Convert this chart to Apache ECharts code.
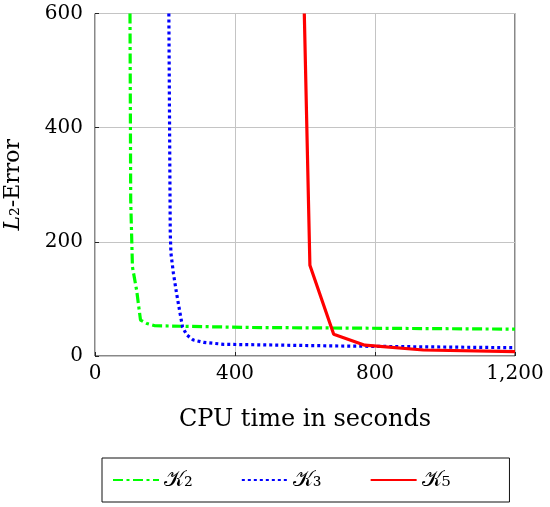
<!DOCTYPE html>
<html>
<head>
<meta charset="utf-8">
<script src="https://cdn.jsdelivr.net/npm/echarts@6/dist/echarts.min.js"></script>
<style>html,body{margin:0;padding:0;background:#fff}#c{width:550px;height:507px}</style>
</head>
<body>
<div id="c"></div>
<script>
// ---- data ----
const seriesNames = ['K2', 'K3', 'K5'];
const k2Time = [100, 102, 107, 119, 130, 148, 171, 440, 1200];
const k2Err  = [600, 273, 156, 115, 63, 57, 53, 50, 47];
const k3Time = [211, 215, 217, 224, 233, 243, 250, 262, 281, 310, 367, 700, 1200];
const k3Err  = [600, 215, 180, 145, 110, 75, 51, 37, 28, 24, 20.5, 17.5, 14.5];
const k5Time = [598, 614, 682, 771, 938, 1200];
const k5Err  = [600, 159, 38, 19, 10.5, 7.5];
const xTicks = [0, 400, 800, 1200];
const yTicks = [0, 200, 400, 600];

const pairs = (xs, ys) => xs.map((x, i) => [x, ys[i]]);
const serif = 'DejaVu Serif';
const fmtNum = v => String(v).replace(/\B(?=(\d{3})+(?!\d))/g, ',');
const legendLabel = {K2: '{k|𝒦}{s|₂}', K3: '{k|𝒦}{s|₃}', K5: '{k|𝒦}{s|₅}'};

const chart = echarts.init(document.getElementById('c'), null, {renderer: 'canvas'});
chart.setOption({
  animation: false,
  backgroundColor: '#fff',
  grid: {left: 95, right: 35, top: 13.5, bottom: 151, show: true, borderColor: '#111', borderWidth: 1,
    containLabel: false, outerBoundsMode: 'none'},
  xAxis: {
    type: 'value', min: 0, max: 1200, interval: 400,
    name: 'CPU time in seconds', nameLocation: 'middle', nameGap: 52,
    nameTextStyle: {fontFamily: serif, fontSize: 24, color: '#000'},
    axisLine: {show: false},
    axisTick: {show: true, inside: true, length: 4, lineStyle: {color: '#222'}},
    axisLabel: {fontFamily: serif, fontSize: 20, color: '#000', margin: 8,
      formatter: v => xTicks.includes(v) ? fmtNum(v) : ''},
    splitLine: {show: true, lineStyle: {color: '#c4c4c4', width: 1}}
  },
  yAxis: {
    type: 'value', min: 0, max: 600, interval: 200,
    name: '{i|L}₂-Error', nameLocation: 'middle', nameGap: 71,
    nameTextStyle: {fontFamily: serif, fontSize: 22, color: '#000',
      rich: {i: {fontFamily: serif, fontStyle: 'italic', fontSize: 22, color: '#000'}}},
    axisLine: {show: false},
    axisTick: {show: true, inside: true, length: 4, lineStyle: {color: '#222'}},
    axisLabel: {fontFamily: serif, fontSize: 20, color: '#000', margin: 12,
      formatter: v => yTicks.includes(v) ? String(v) : ''},
    splitLine: {show: true, lineStyle: {color: '#c4c4c4', width: 1}}
  },
  legend: {
    left: 102, top: 458, orient: 'horizontal',
    padding: [11, 59, 11, 10], itemGap: 48, itemWidth: 46, itemHeight: 14,
    borderColor: '#111', borderWidth: 1,
    data: seriesNames,
    itemStyle: {opacity: 0},
    formatter: n => legendLabel[n],
    textStyle: {fontFamily: serif, fontSize: 22, color: '#000',
      rich: {k: {fontFamily: serif, fontSize: 22, color: '#000'}, s: {fontFamily: serif, fontSize: 22, color: '#000'}}}
  },
  series: [
    {name: 'K2', type: 'line', data: pairs(k2Time, k2Err), symbol: 'none', clip: true,
      lineStyle: {color: '#00ff00', width: 3.2, type: [10, 3.5, 3, 3.5]}, itemStyle: {color: '#00ff00'}},
    {name: 'K3', type: 'line', data: pairs(k3Time, k3Err), symbol: 'none', clip: true,
      lineStyle: {color: '#0000ff', width: 3.2, type: [3, 3]}, itemStyle: {color: '#0000ff'}},
    {name: 'K5', type: 'line', data: pairs(k5Time, k5Err), symbol: 'none', clip: true,
      lineStyle: {color: '#ff0000', width: 3.2, type: 'solid'}, itemStyle: {color: '#ff0000'}}
  ]
});
</script>
</body>
</html>
